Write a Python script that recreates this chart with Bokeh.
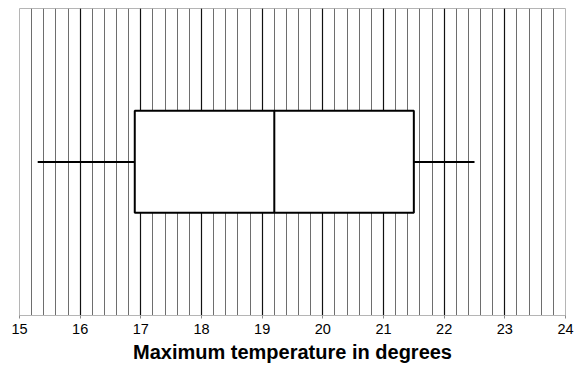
from bokeh.plotting import figure
from bokeh.models import SingleIntervalTicker, Range1d, ColumnDataSource
from bokeh.embed import file_html
from bokeh.resources import INLINE

# Five-number summary of the maximum temperatures
whisker_low = [15.3]
q1 = [16.9]
median = [19.2]
q3 = [21.5]
whisker_high = [22.5]

x_start, x_end = 15, 24

p = figure(width=582, height=365, output_backend="svg", toolbar_location=None,
           x_range=Range1d(x_start, x_end), y_range=Range1d(0, 1),
           min_border_left=19, min_border_right=17, min_border_top=8,
           min_border_bottom=45)
p.background_fill_color = "white"
p.border_fill_color = "white"
p.outline_line_color = "#b5b5b5"
p.outline_line_width = 1

# Grid: heavy lines at whole degrees, light lines every 0.2 degree
ticker = SingleIntervalTicker(interval=1, num_minor_ticks=5)
p.xaxis.ticker = ticker
p.xgrid.ticker = ticker
p.xgrid.grid_line_color = "#111111"
p.xgrid.grid_line_width = 1.2
p.xgrid.grid_line_alpha = 1
p.xgrid.minor_grid_line_color = "#6e6e6e"
p.xgrid.minor_grid_line_width = 1
p.ygrid.visible = False
p.yaxis.visible = False

ax = p.xaxis[0]
ax.axis_label = "Maximum temperature in degrees"
ax.axis_label_text_font = "Liberation Sans"
ax.axis_label_text_font_style = "bold"
ax.axis_label_text_font_size = "20px"
ax.axis_label_text_color = "black"
ax.axis_label_standoff = 4
ax.major_label_text_font = "Liberation Sans"
ax.major_label_text_font_size = "14.5px"
ax.major_label_text_color = "black"
ax.major_label_standoff = 4
ax.axis_line_color = "#b5b5b5"
ax.major_tick_line_color = "#8a8a8a"
ax.major_tick_out = 3
ax.major_tick_in = 0
ax.minor_tick_line_color = None

src = ColumnDataSource(dict(lo=whisker_low, q1=q1, med=median, q3=q3, hi=whisker_high))

# Whiskers at mid-height
p.segment(x0="lo", x1="q1", y0=0.5, y1=0.5, source=src, line_color="black", line_width=2)
p.segment(x0="q3", x1="hi", y0=0.5, y1=0.5, source=src, line_color="black", line_width=2)

# Box from lower to upper quartile, median line inside
p.quad(left="q1", right="q3", bottom=0.335, top=0.667, source=src,
       fill_color="white", line_color="black", line_width=2)
p.segment(x0="med", x1="med", y0=0.335, y1=0.667, source=src, line_color="black", line_width=2)

open("out.html", "w").write(file_html(p, INLINE))
